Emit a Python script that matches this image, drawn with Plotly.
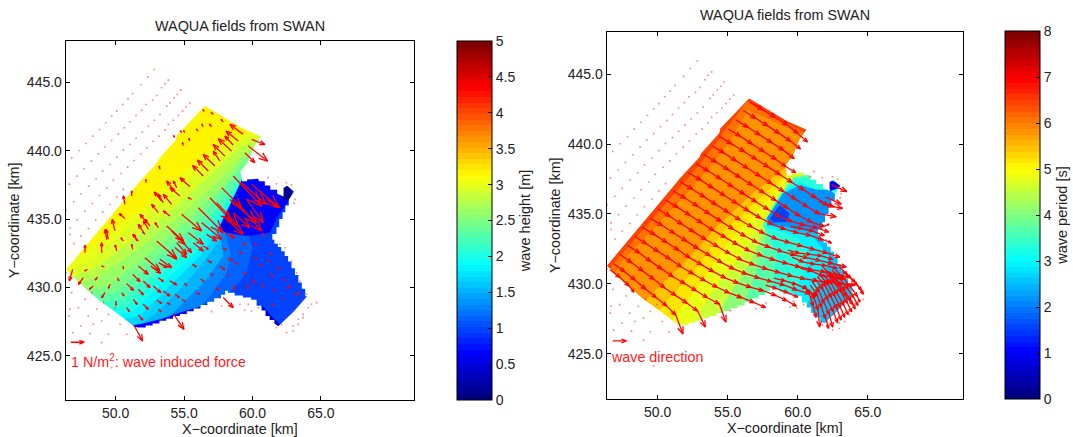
import plotly.graph_objects as go

W, H = 1073, 437
x_range = [46.35, 71.8]
y_range = [421.75, 448.06]
x_ticks = [50, 55, 60, 65]
y_ticks = [425, 430, 435, 440, 445]
height_ticks = [0, 0.5, 1, 1.5, 2, 2.5, 3, 3.5, 4, 4.5, 5]
period_ticks = [0, 1, 2, 3, 4, 5, 6, 7, 8]

domain_outline = [(46.36,431.29),(51.46,437.39),(51.54,437.51),(53.0,439.1),(53.06,439.3),(54.39,440.8),(54.44,441.1),(56.52,443.29),
    (57.98,442.39),(59.24,441.66),(60.63,441.05),(60.13,440.32),(59.62,439.1),(59.12,438.49),(59.24,437.76),
    (59.6,437.76),(59.6,437.9),(60.4,437.95),(60.5,437.76),(60.9,437.76),(60.9,437.45),(61.3,437.45),(61.3,437.15),(61.8,437.15),(61.8,436.85),(62.27,436.66),
    (62.27,437.27),(62.53,437.44),(63.03,437.02),(62.65,436.41),(62.65,436.0),(62.4,436.0),(62.4,435.5),(62.2,435.5),(62.2,435.0),(61.95,435.0),(61.95,434.4),(61.75,434.4),(61.75,433.9),(61.45,433.9),(61.45,433.49),
    (61.6,433.49),(61.6,433.2),(61.85,433.2),(61.85,432.95),(62.1,432.95),(62.1,432.65),(62.35,432.65),(62.35,432.3),(62.6,432.3),(62.6,431.9),(62.85,431.9),(62.85,431.4),(63.1,431.4),(63.1,430.9),(63.35,430.9),(63.35,430.35),(63.6,430.35),(63.6,429.9),(63.85,429.9),(63.85,429.34),(63.99,429.34),
    (63.03,428.24),(62.27,427.51),(61.89,427.15),(61.6,427.35),(61.6,427.6),(61.25,427.6),(61.25,427.9),(60.95,427.9),(60.95,428.3),(60.65,428.3),(60.65,428.65),(60.3,428.65),(60.3,429.1),(59.9,429.1),(59.9,429.25),(59.3,429.25),(59.3,429.4),(58.7,429.4),(58.7,429.6),(58.2,429.6),(58.2,429.75),(58.0,429.75),(58.0,429.45),(57.7,429.45),(57.7,429.2),(57.2,429.2),(57.2,428.95),(56.7,428.95),(56.7,428.7),(56.2,428.7),(56.2,428.45),(55.7,428.45),(55.7,428.25),(55.2,428.25),(55.2,428.05),(54.7,428.05),(54.7,427.9),(54.2,427.9),(54.2,427.7),(53.7,427.7),(53.7,427.55),(53.2,427.55),(53.2,427.35),(52.7,427.35),(52.7,427.2),(52.2,427.2),(52.2,427.05),(51.67,427.05),(51.4,427.1),
    (50.4,427.88),(48.89,428.98),(47.63,430.07)]

# Wave height field: level outlines from the south coast to the east side
height_base = 3.15
height_levels = [3.0, 2.9, 2.75, 2.6, 2.45, 2.3, 2.15, 2.0, 1.85, 1.7, 1.5, 1.3, 1.15, 0.95]
height_fronts = [
    [(46.06,431.08),(47.4,432.3),(50.08,434.37),(53.24,436.93),(56.16,439.49),(58.11,440.96),(60.78,441.56)],
    [(46.3,430.96),(47.89,431.81),(50.56,434),(53.73,436.44),(56.65,439),(58.59,440.59),(60.78,441.32)],
    [(46.67,430.71),(48.37,431.32),(51.05,433.27),(54.21,435.71),(57.13,438.39),(59.08,440.22),(60.78,441.08)],
    [(47.16,430.35),(48.86,430.83),(51.66,432.78),(54.7,435.22),(57.62,437.91),(59.2,439.61),(60.78,440.83)],
    [(47.76,429.86),(49.47,430.1),(52.27,432.3),(55.31,434.98),(58.11,437.66),(59.32,439.37),(60.78,440.59)],
    [(48.25,429.49),(50.08,429.61),(52.63,431.81),(55.67,434.49),(57.98,437.17),(58.84,438.27),(60.78,440.35)],
    [(48.86,428.88),(50.56,429.12),(53,431.32),(56.04,434.13),(58.23,436.69),(59.08,438.03),(61.03,438.88)],
    [(49.47,428.39),(50.93,428.63),(53.24,430.96),(56.28,433.64),(58.11,436.2),(59.2,437.78),(61.03,438.39)],
    [(49.95,427.91),(51.29,428.27),(53.73,430.59),(56.28,432.91),(57.62,434.98),(59.32,437.66),(61.03,437.91)],
    [(50.56,427.66),(51.78,427.91),(54.21,430.35),(56.16,432.3),(57.38,434),(58.59,436.44),(59.44,437.78),(61.03,437.78)],
    [(51.41,426.93),(53,428.15),(54.7,429.86),(56.4,431.81),(57.62,433.52),(58.35,435.47),(59.57,437.66),(61.03,437.66)],
    [(53,426.93),(54.7,428.63),(56.65,430.59),(57.86,432.3),(57.62,434),(58.59,436.2),(59.45,438),(61.03,438)],
    [(55.19,427.42),(56.89,429.37),(58.11,431.07),(58.4,432.5),(58.0,434),(58.5,436),(59.4,438.05),(63.2,438.05)],
    [(57.38,427.91),(58.35,429.61),(59.57,431.07),(60.0,432.8),(59.7,434),(60,438.1),(63.2,438.1)],
]
height_patch_values = [0.65, 0.5, 0.15, 0.7, 0.45]
height_patches = [
    [(57.5,434.25),(58.3,435.96),(59.3,438.05),(60.5,438.05),(61.6,437.4),(62.24,436.9),(62.97,436.93),(62.73,436.44),(61.88,435.22),(61.27,434),(59.57,433.76),(58.11,434)],
    [(57.62,434.37),(58.35,435.47),(59.08,436.44),(60.05,436.44),(59.81,434.98),(58.59,434.13)],
    [(62.12,437.3),(62.48,437.54),(62.9,437.05),(62.97,436.44),(62.24,436.44),(62,436.9)],
    [(51.2,427.2),(52,427.35),(53.4,427.7),(54.7,428.15),(56.2,428.6),(57,428.9),(57,427),(51,426.5)],
    [(60.7,428.7),(61.3,428.0),(62,427.3),(61.7,427),(60.8,427.7)],
]

# Wave period field
period_base = 6.4
period_levels = [6.1, 5.75, 5.45, 5.15, 4.85, 4.5, 4.1, 3.7, 3.3, 2.9, 2.6]
period_fronts = [
    [(46.37,430.85),(46.84,431.44),(51.83,437.18),(53.25,438.85),(54.56,440.64),(56.34,443.03),(60.85,440.64)],
    [(46.84,430.61),(47.32,431.44),(52.3,436.7),(53.73,438.37),(55.04,440.05),(56.46,442.44),(60.62,440.52)],
    [(49.22,428.93),(52.07,431.68),(54.2,434.07),(57.05,436.7),(59.07,438.25),(60.85,439.81)],
    [(50.05,428.1),(52.66,430.97),(54.56,433.6),(57.41,436.22),(59.19,437.9),(60.85,439.09)],
    [(51,427.4),(53.25,430.25),(55.03,432.98),(57.65,435.75),(59.19,437.66),(60.85,438.61)],
    [(52.54,427.14),(53.97,429.53),(55.87,431.92),(57.89,435.15),(59.31,437.54),(60.85,438.14)],
    [(53.97,427.14),(55.15,429.29),(56.7,431.68),(58.0,434.79),(59.43,437.42),(60.85,437.9)],
    [(55.87,427.62),(56.58,429.77),(57.53,432.4),(57.89,434.43),(58.95,436.7),(59.67,437.6),(61.09,437.9)],
    [(57.29,427.86),(58.24,430.25),(58.48,432.16),(57.53,434.19),(58.48,435.98),(59.79,437.54),(61.09,437.61)],
    [(58.95,428.34),(60.38,430.49),(60.74,432.16),(59.9,433.36),(57.77,434.07),(58.84,436.46),(60.14,437.3),(61.33,436.7),(62.52,436.22)],
    [(60.38,428.1),(61.8,430.49),(62.28,431.92),(61.09,433.36),(59.19,433.95),(57.77,434.19),(58.48,435.63),(60.26,437.06),(61.57,436.58),(62.75,435.98)],
]
period_patch_values = [2.2, 1.6, 1.0, 1.0]
period_patches = [
    [(57.77,434.67),(58.95,436.46),(60.14,437.06),(61.33,436.75),(62.3,436.7),(62.8,436.3),(62.6,435),(62.1,434),(61.09,433.7),(59.19,434.07),(58,434.31)],
    [(58,434.67),(58.72,435.63),(59.43,435.03),(59.19,434.43),(58.24,434.38)],
    [(62.16,437.06),(62.28,437.42),(62.64,437.3),(63.2,436.94),(62.33,436.65)],
    [(60.6,428.1),(61.2,427.7),(61.1,427.4),(60.7,427.8)],
]

# Wave-induced force vectors: tail x, tail y, u, v (km on the map)
force_vectors = [
    (59.32,441.2,-.97,.73),(58.96,440.71,-.9,.73),(58.59,440.42,-.61,.66),(58.47,439.98,-.97,.9),(57.98,439.61,-.85,.85),
    (57.62,439.25,-.49,.73),(57.25,438.88,-.85,.85),(56.77,438.52,-.8,.8),(56.4,438.15,-.78,.78),(55.43,437.37,-.73,.66),
    (54.7,436.69,-.73,.61),(54.09,436.08,-.61,.73),(53.12,435.47,-.49,.61),(52.51,434.49,-.36,.49),(51.66,433.39,-.41,.49),
    (52.27,434.74,-.49,.61),(53.48,436.2,-.36,.61),(54.46,437.3,-.24,.49),
    (57.86,442.1,-.15,.2),(57.13,442.66,-.15,.15),(56.48,442.86,-.1,.15),(57.01,441.76,-.15,.2),(56.4,441.76,-.1,.2),
    (56.04,441.44,-.15,.15),(55.43,440.71,-.1,.2),(55.06,441.32,-.1,.15),(54.94,440.35,-.05,.25),(54.82,441.32,-.1,.15),(54.33,440.96,-.1,.15),
    (50.68,436.08,-.12,.61),(51.17,436.69,0,.37),(52.22,437.66,0,.24),(53.24,438.64,-.05,.24),(50.68,435.03,-.41,.37),
    (49.95,434.13,-.2,.85),(49.35,433.5,-.12,.73),(47.76,432.54,0,.54),(48.98,432.54,0,.73),(49.47,433.52,-.17,.73),
    (50.08,432.66,-.12,.44),(50.56,433.39,-.17,.24),(51.24,432.78,-.07,.37),(51.54,433.39,-.2,.49),(52.14,433.88,-.49,.73),
    (52.39,434.25,-.36,.61),(53.36,436.32,-.54,.66),(54.33,437.05,-.61,.73),(53.12,434.37,-.24,.37),(53.97,435.22,-.49,.37),(55.55,436.44,-.24,.12),
    (46.86,431.32,-.24,-.85),(47.64,430.71,-.36,-.49),(48.37,430.1,-.29,-.24),(49.22,429.61,-.24,-.37),(50.03,429,0,-.32),
    (49.59,430.22,-.12,-.29),(48.69,430.76,-.19,-.22),(50.56,431.32,0,.2),(50.13,430.71,.1,-.24),(49.18,431.49,-.2,.07),(47.94,431.32,-.2,-.12),
    (51.66,431.56,.73,-.61),(51.24,430.96,.54,-.54),(52.02,430.47,.49,-.49),(50.81,430.27,.49,-.49),(50.44,429.61,.17,-.24),
    (51.66,429.86,.36,-.41),(52.75,430.1,.56,-.49),(53.12,430.71,.36,-.29),(53.48,429.73,.49,-.37),(51.29,429.12,.29,-.37),
    (52.02,428.76,.36,-.37),(53,429.05,.36,-.22),(50.81,428.52,.19,-.29),(51.66,427.98,.32,-.39),(53.12,428.39,.19,-.17),
    (53.97,430.47,.49,-.29),(54.33,429.49,.32,-.24),(53.73,428.88,.24,-.12),(54.82,429.12,.24,-.12),(54.21,428.08,.78,-1.15),(51.34,427.22,.63,-1.15),
    (52.14,432.17,1.09,-.93),(52.56,431.56,.73,-.54),(53.14,431.81,.61,-.37),(53,433.39,1.46,-1.27),(53.73,434.49,1.22,-1.1),
    (54.09,434.13,.97,-.98),(54.33,432.91,.85,-.73),(54.82,435.35,1.46,-1.22),(55.31,434,1.09,-.85),(56.04,435.83,1.82,-1.83),
    (56.28,434.74,1.46,-1.22),(56.65,433.88,.73,-.49),(56.89,436.56,1.58,-1.71),(57.38,436.2,1.58,-1.71),(57.86,435.22,1.46,-1.34),
    (57.98,434,.73,-.37),(57.74,437.3,1.46,-1.46),(58.59,438.15,2.07,-2.2),(58.35,436.44,1.95,-1.71),(59.2,437.66,1.82,-1.59),
    (59.93,437.54,2.02,-1.71),(59.57,436.44,1.22,-1.71),(61.03,436.44,.97,-.61),(59.2,435.83,1.46,-1.71),(58.59,435.47,1.22,-1.1),
    (54.46,433.27,.73,-.85),(54.94,433.27,.61,-.73),(53.24,432.05,.85,-.61),(53.85,432.66,.61,-.61),(55.67,433.27,.73,-.61),(56.4,433.03,.36,-.24),
    (59.93,440.83,.97,-.37),(59.69,440.35,1.41,-1.1),(59.44,439.86,.73,-.73),(57.86,429.25,.73,-.73),
    (57.62,431.56,.36,-.29),(56.9,431,.2,-.1),(57.3,430,.2,-.2),(56.2,430.6,.25,-.15),(55.6,431.7,.3,-.2),(55,430.3,.2,-.15),
    (55.9,429.6,.25,-.1),(58.1,430.9,.15,-.05),(58.7,431.8,.25,-.1),(59.3,431.1,.2,-.15),(58.6,430.2,.1,-.35),(59.6,430.2,.1,-.3),
    (60,430.6,.15,-.3),(60.5,431.7,.2,-.1),(61.1,432.1,.1,-.2),(60.7,430.3,.1,-.25),(61.3,431,.2,-.2),(61.8,431.5,.15,-.2),
    (62.2,430.6,.2,-.1),(61.5,429.9,.1,-.2),(62.5,429.9,.25,.2),(63.1,429.4,.3,.25),(62.2,429.2,.1,-.1),(61.4,428.8,.1,-.15),
    (60.1,433.2,.2,-.1),(59.2,433.2,.3,-.05),(60.7,434,.15,-.2),(61.3,432.6,.05,-.2),(60.1,432.2,.2,-.1),(59,432.6,.25,-.1),
    (57.8,432.9,.3,-.15),(58.2,432.1,.35,-.1),(56.7,432,.3,-.2),
]

# Wave direction: chains of positions, one arrow between each neighbouring pair
direction_chains = [
    [(56.6,443.0),(57.5,442.45),(58.4,441.9),(59.3,441.35),(60.0,440.75),(60.7,440.15)],
    [(56.1,442.4),(57,441.85),(57.85,441.3),(58.7,440.75),(59.5,440.2),(60.2,439.65)],
    [(55.55,441.75),(56.45,441.2),(57.3,440.65),(58.15,440.1),(59,439.55),(59.75,438.95)],
    [(55,441.1),(55.9,440.55),(56.75,440),(57.6,439.45),(58.45,438.9),(59.15,438.4),(59.85,437.95)],
    [(54.4,440.55),(55.3,440),(56.2,439.45),(57.05,438.9),(57.9,438.35),(58.75,437.8),(59.6,437.25),(60.45,436.7),(61.3,436.15),(62.15,435.6),(63.2,435.4)],
    [(53.85,439.9),(54.75,439.35),(55.6,438.8),(56.45,438.25),(57.3,437.7),(58.15,437.15),(59,436.6),(59.85,436.05),(60.7,435.5),(61.55,435),(62.75,434.8)],
    [(53.3,439.25),(54.2,438.7),(55.05,438.15),(55.9,437.6),(56.75,437.05),(57.6,436.5),(58.45,435.95),(59.3,435.4),(60.15,434.85),(61,434.4),(61.9,434.1),(62.23,434.27)],
    [(52.75,438.6),(53.65,438.05),(54.5,437.5),(55.35,436.95),(56.2,436.4),(57.05,435.85),(57.9,435.3),(58.75,434.8),(59.6,434.45),(60.5,434.2),(61.4,434),(62.2,433.7)],
    [(52.2,437.95),(53.1,437.4),(53.95,436.85),(54.8,436.3),(55.65,435.75),(56.5,435.2),(57.35,434.7),(58.2,434.25),(59.1,433.9),(60,433.65),(60.9,433.45),(61.8,433.15),(62.4,432.93)],
    [(51.6,437.3),(52.5,436.75),(53.35,436.2),(54.2,435.65),(55.05,435.1),(55.9,434.55),(56.75,434.05),(57.6,433.6),(58.5,433.2),(59.4,432.95),(60.3,432.7),(61.2,432.45),(62.1,432.2),(63,431.9)],
    [(51.1,436.65),(52,436.1),(52.85,435.55),(53.7,435),(54.55,434.45),(55.4,433.9),(56.25,433.4),(57.1,432.95),(58,432.6),(58.9,432.3),(59.8,432.05),(60.7,431.85),(61.6,431.65),(62.5,431.45),(63.46,431.2)],
    [(50.55,436.0),(51.45,435.45),(52.3,434.9),(53.15,434.35),(54,433.8),(54.85,433.3),(55.7,432.8),(56.55,432.35),(57.45,432),(58.35,431.7),(59.25,431.45),(60.15,431.2),(61.05,431),(61.95,430.85),(62.85,430.65),(63.7,430.45)],
    [(50,435.35),(50.9,434.8),(51.75,434.25),(52.6,433.7),(53.45,433.15),(54.3,432.65),(55.15,432.15),(56,431.7),(56.9,431.35),(57.8,431.05),(58.7,430.8),(59.6,430.55),(60.5,430.35),(61.4,430.2),(62.3,430.1),(63.2,430),(64.1,429.9)],
    [(49.45,434.7),(50.35,434.15),(51.2,433.6),(52.05,433.05),(52.9,432.5),(53.75,432),(54.6,431.5),(55.45,431.05),(56.35,430.7),(57.25,430.4),(58.15,430.15),(59.05,429.9),(59.95,429.55),(60.85,429.3)],
    [(48.9,434.05),(49.8,433.5),(50.65,432.95),(51.5,432.4),(52.3,431.85),(53.15,431.35),(54,430.85),(54.85,430.4),(55.75,430.05),(56.65,429.75),(57.55,429.5),(58.45,429.15),(59.2,428.8),(59.9,428.4)],
    [(48.35,433.4),(49.2,432.85),(50.05,432.3),(50.9,431.75),(51.7,431.2),(52.55,430.7),(53.4,430.2),(54.25,429.75),(55.1,429.35),(56,429),(56.9,428.65),(57.7,428.3)],
    [(47.85,432.75),(48.7,432.2),(49.5,431.6),(50.3,431.05),(51.1,430.5),(51.95,430),(52.75,429.5),(53.55,429),(54.4,428.55),(54.87,427.25)],
    [(47.3,432.1),(48.15,431.5),(48.95,430.9),(49.75,430.3),(50.5,429.7),(51.3,429.15),(52.1,428.6),(52.85,428.05),(53.4,426.9)],
    [(46.85,431.45),(47.65,430.85),(48.4,430.25),(49.15,429.6),(49.9,429),(50.65,428.4),(51.3,427.75),(51.8,426.4)],
    [(46.6,431),(47.3,430.45),(47.95,429.85),(48.3,429.4)],
    [(60.8,429.6),(61.2,428.9),(61.45,428.1),(61.56,426.9)],
    [(61,430.2),(61.55,429.4),(61.9,428.6),(62.25,427.8),(62.5,426.9)],
    [(61.4,430.5),(62,429.8),(62.4,429),(62.8,428.2),(63.1,427.4)],
    [(61.8,430.7),(62.4,430),(62.85,429.25),(63.3,428.45),(63.6,427.8)],
    [(62.2,430.9),(62.85,430.2),(63.35,429.5),(63.8,428.8),(64.1,428.2)],
    [(62.7,431),(63.3,430.35),(63.8,429.75),(64.25,429.1),(64.45,428.7)],
    [(63.2,430.9),(63.8,430.4),(64.25,429.9),(64.7,429.25)],
    [(60.9,429.9),(61.4,429.15),(61.7,428.3),(62,427.5),(62.2,426.8)],
    [(61.2,430.4),(61.8,429.6),(62.15,428.8),(62.55,428),(62.85,427.2)],
    [(61.6,430.6),(62.2,429.9),(62.65,429.1),(63.05,428.3),(63.35,427.6)],
    [(62,430.8),(62.6,430.1),(63.1,429.4),(63.55,428.6),(63.85,428)],
    [(62.45,431),(63.05,430.3),(63.6,429.6),(64,429),(64.3,428.45)],
    [(60.5,429.9),(60.85,429.2),(61.1,428.4),(61.3,427.6)],
    [(61.8,431.2),(62.45,430.5),(63,429.8),(63.45,429.1),(63.95,428.5)],
    [(62.95,431.2),(63.55,430.65),(64.1,430.1),(64.55,429.55)],
    [(60.2,431.1),(61,430.9),(61.8,430.55),(62.6,430.5),(63.4,430.35)],
    [(59.6,431.9),(60.4,431.55),(61.2,431.4),(62,431.3),(62.8,431.1)],
    [(59.3,432.4),(60.1,432.2),(60.9,432.1),(61.7,432),(62.5,431.75)],
    [(58.3,430.4),(59.1,430.2),(59.9,429.95),(60.6,429.65),(61.3,429.1)],
    [(57.7,429.9),(58.5,429.65),(59.3,429.35),(60,429.05)],
    [(59.5,434.1),(60.3,433.95),(61.1,433.75),(61.9,433.45)],
    [(62.4,437.1),(63.5,436.6)],
    [(62.0,436.2),(63.1,435.7)],
    [(61.5,435.9),(62.6,435.5)],
]

# Very small vectors outside the model field, shown as specks
speck_points = [
    (52.83,445.95),(52.34,445.41),(51.85,444.85),(51.24,444.19),(50.9,443.8),(50.51,443.39),(50.08,442.9),(49.71,442.53),(49.27,442.05),(48.81,441.56),(48.32,441.07),(47.84,440.53),(47.33,440.02),(46.79,439.48),
    (53.85,445.17),(53.6,444.92),(53.36,444.61),(53,444.05),(52.7,443.7),(52.22,443.39),(51.9,442.97),(51.49,442.58),(51.05,442.12),(50.64,441.68),(50.2,441.24),(49.71,440.75),(49.22,440.29),(48.74,439.78),(48.23,439.24),(47.69,438.68),(47.18,438.14),(46.62,437.56),
    (54.75,444.44),(54.5,444.12),(54.26,443.87),(53.97,443.51),(53.73,443.27),(53.24,442.66),(52.83,442.24),(52.39,441.8),(51.95,441.36),(51.49,440.92),(51.05,440.46),(50.56,440.05),(50.08,439.53),(49.59,439),(49.05,438.51),(48.57,437.95),(48.03,437.41),(47.47,436.83),(46.94,436.27),(46.38,435.66),
    (55.43,443.51),(55.14,443.22),(54.89,442.9),(54.58,442.58),(54.21,442.24),(53.85,441.92),(53.6,441.51),(53.17,441.07),(52.75,440.7),(52.27,440.22),(51.83,439.78),(51.34,439.29),(50.88,438.8),(50.39,438.34),(49.83,437.83),(49.35,437.29),(48.81,436.73),(48.3,436.14),(47.74,435.56),(47.2,434.95),(46.67,434.36),
    (50.56,437.17),(50.08,436.63),(49.59,436.07),(49.05,435.51),(48.54,434.92),(48.01,434.31),(47.47,433.75),
    (46.96,433.2),(46.67,433.88),(46.79,429.61),(46.38,431.07),(46.67,428.39),(47.28,428.51),(47.76,429.12),(48.25,429.61),(46.6,427.9),(48,427.9),(48.62,428.39),(49.1,428.88),(46.86,426.68),(47.45,427.17),(48.37,427.3),(48.98,427.54),(49.47,428.02),(49.95,428.51),(48.13,426.61),(49.47,426.56),(48.98,425.95),(50.32,427.3),(50.81,426.56),(49.71,424.12),
    (64.68,428.88),(64.07,428.51),(63.7,428.02),(63.34,427.66),(62.97,427.17),(62.49,426.68),(63.95,429.49),(63.58,429.12),(63.22,428.63),(62.85,428.22),(62.49,427.78),(62.12,427.29),(62.97,426.8),(63.34,427.29),(63.7,427.78),(64.31,428.76),(61.76,427.05),(62.36,432.9),(62,433.15),(62.24,432.17),(62.85,431.93),(63.22,431.07),(63.46,430.46),(57.74,428.63),(57.01,428.22),(59.08,428.76),(59.44,428.32),(59.93,428.27),(60.42,428.51),(59.69,428.76),(55.19,428.07),
    (61.15,438.03),(60.9,437.66),(61.75,437.59),(62.48,437.66),(62.85,437.5),(63.1,436.44),(63.03,436.15),
]

# Reference arrows drawn next to the map notes
force_key = (46.72, 425.98, 0.98, 0)
direction_key = (46.79, 425.91, 0.97, 0)


def jet(t):
    t = min(63, int(t * 64)) / 63
    c = lambda a: round(255 * max(0.0, min(1.0, 1.5 - abs(4 * t - a))))
    return f"rgb({c(3)},{c(2)},{c(1)})"


JET = []
for i in range(64):
    JET += [[i / 64, jet(i / 64)], [(i + 1) / 64, jet(i / 64)]]
LINE_RED = "#ff0000"
FONT = "Liberation Sans, Arial, sans-serif"
INK = "#222"


def poly(points, value, vmax, xa, ya):
    return go.Scatter(x=[p[0] for p in points], y=[p[1] for p in points], mode="lines", fill="toself",
                      line=dict(width=0), fillcolor=jet(value / vmax), hoverinfo="skip", showlegend=False, xaxis=xa, yaxis=ya)


def front_poly(front, value, vmax, xa, ya):
    closed = list(front) + [(x_range[1], front[-1][1]), (x_range[1], y_range[0]), (front[0][0], y_range[0])]
    return poly(closed, value, vmax, xa, ya)


def mask(xa, ya):
    tip = domain_outline[0]
    xs = [x_range[0], x_range[0], x_range[1], x_range[1], x_range[0], x_range[0]] + [p[0] for p in domain_outline] + [tip[0]]
    ys = [tip[1], y_range[0], y_range[0], y_range[1], y_range[1], tip[1]] + [p[1] for p in domain_outline] + [tip[1]]
    return go.Scatter(x=xs, y=ys, mode="lines", fill="toself", line=dict(width=0), fillcolor="white",
                      hoverinfo="skip", showlegend=False, xaxis=xa, yaxis=ya)


def arrows(vectors, xa, ya, width=1.3):
    xs, ys = [], []
    for x0, y0, u, v in vectors:
        x1, y1 = x0 + u, y0 + v
        bx, by = x1 - 0.36 * u, y1 - 0.36 * v
        xs += [x0, x1, None, bx - 0.14 * v, x1, bx + 0.14 * v, None]
        ys += [y0, y1, None, by + 0.14 * u, y1, by - 0.14 * u, None]
    return go.Scatter(x=xs, y=ys, mode="lines", line=dict(color=LINE_RED, width=width), hoverinfo="skip",
                      showlegend=False, xaxis=xa, yaxis=ya)


def specks(xa, ya):
    return go.Scatter(x=[p[0] for p in speck_points], y=[p[1] for p in speck_points], mode="markers",
                      marker=dict(color="rgba(255,30,30,0.55)", size=1.6, symbol="square", line=dict(width=0)),
                      hoverinfo="skip", showlegend=False, xaxis=xa, yaxis=ya)


def scale_carrier(values, vmax, ticks, label, bar_left, top, bottom, xa, ya):
    return go.Scatter(
        x=[52] * len(values), y=[434] * len(values), mode="markers", hoverinfo="skip", showlegend=False, xaxis=xa, yaxis=ya,
        marker=dict(size=1, color=values, cmin=0, cmax=vmax, colorscale=JET, showscale=True,
                    colorbar=dict(x=bar_left / W, xanchor="left", xref="paper", y=(H - bottom) / H, yanchor="bottom", yref="paper",
                                  len=(bottom - top) / H, lenmode="fraction", thickness=35, thicknessmode="pixels",
                                  xpad=0, ypad=0, outlinecolor="black", outlinewidth=1, ticks="inside", ticklen=4, tickcolor="black",
                                  tickvals=ticks, ticktext=[f"{t:g}" for t in ticks], tickfont=dict(family=FONT, size=14, color=INK),
                                  title=dict(text=label, side="right", font=dict(family=FONT, size=14.5, color=INK)))))


def chain_vectors(chains):
    return [(a[0], a[1], b[0] - a[0], b[1] - a[1]) for c in chains for a, b in zip(c, c[1:])]


fig = go.Figure()

# Left panel
fig.add_trace(poly(domain_outline, height_base, 5, "x", "y"))
for lv, fr in zip(height_levels, height_fronts):
    fig.add_trace(front_poly(fr, lv, 5, "x", "y"))
for lv, pa in zip(height_patch_values, height_patches):
    fig.add_trace(poly(pa, lv, 5, "x", "y"))
fig.add_trace(scale_carrier(height_levels, 5, height_ticks, "wave height [m]", 456.5, 40.7, 400, "x", "y"))
fig.add_trace(mask("x", "y"))
fig.add_trace(specks("x", "y"))
fig.add_trace(arrows(force_vectors, "x", "y"))
fig.add_trace(arrows([force_key], "x", "y"))

# Right panel
fig.add_trace(poly(domain_outline, period_base, 8, "x2", "y2"))
for lv, fr in zip(period_levels, period_fronts):
    fig.add_trace(front_poly(fr, lv, 8, "x2", "y2"))
for lv, pa in zip(period_patch_values, period_patches):
    fig.add_trace(poly(pa, lv, 8, "x2", "y2"))
fig.add_trace(scale_carrier(period_levels, 8, period_ticks, "wave period [s]", 1005, 31.5, 399, "x2", "y2"))
fig.add_trace(mask("x2", "y2"))
fig.add_trace(specks("x2", "y2"))
fig.add_trace(arrows(chain_vectors(direction_chains), "x2", "y2"))
fig.add_trace(arrows([direction_key], "x2", "y2"))


def x_axis(px0, px1, anchor):
    return dict(domain=[px0 / W, px1 / W], range=x_range, anchor=anchor, tickvals=x_ticks, tickformat=".1f", ticks="inside", ticklen=4,
                tickcolor="black", showline=True, linecolor="black", linewidth=1, mirror="ticks", showgrid=False, zeroline=False,
                tickfont=dict(family=FONT, size=14, color=INK),
                title=dict(text="X\u2212coordinate [km]", standoff=1, font=dict(family=FONT, size=14.3, color=INK)))


def y_axis(py0, py1, anchor):
    return dict(domain=[(H - py1) / H, (H - py0) / H], range=y_range, anchor=anchor, tickvals=y_ticks, tickformat=".1f", ticks="inside", ticklen=4,
                tickcolor="black", showline=True, linecolor="black", linewidth=1, mirror="ticks", showgrid=False, zeroline=False,
                tickfont=dict(family=FONT, size=14, color=INK),
                title=dict(text="Y\u2212coordinate [km]", standoff=3, font=dict(family=FONT, size=14.3, color=INK)))


red = dict(family=FONT, size=14.3, color="#ff2020")
fig.update_layout(
    width=W, height=H, margin=dict(l=0, r=0, t=0, b=0), paper_bgcolor="white", plot_bgcolor="white", showlegend=False,
    xaxis=x_axis(65.7, 414, "y"), yaxis=y_axis(40.7, 400, "x"),
    xaxis2=x_axis(606.6, 963, "y2"), yaxis2=y_axis(31.5, 399, "x2"),
    annotations=[
        dict(text="WAQUA fields from SWAN", x=240 / W, y=(H - 26) / H, xref="paper", yref="paper", xanchor="center", yanchor="middle", showarrow=False,
             font=dict(family=FONT, size=14.4, color=INK)),
        dict(text="WAQUA fields from SWAN", x=785 / W, y=(H - 15) / H, xref="paper", yref="paper", xanchor="center", yanchor="middle", showarrow=False,
             font=dict(family=FONT, size=14.4, color=INK)),
        dict(text="1 N/m<sup>2</sup>: wave induced force", x=46.6, y=424.6, xref="x", yref="y", xanchor="left", showarrow=False, font=red),
        dict(text="wave direction", x=46.55, y=424.75, xref="x2", yref="y2", xanchor="left", showarrow=False, font=red),
    ],
)
fig.write_html("out.html", config={"displayModeBar": False},
               post_script="document.body.style.margin='0';document.body.style.overflow='hidden';")
